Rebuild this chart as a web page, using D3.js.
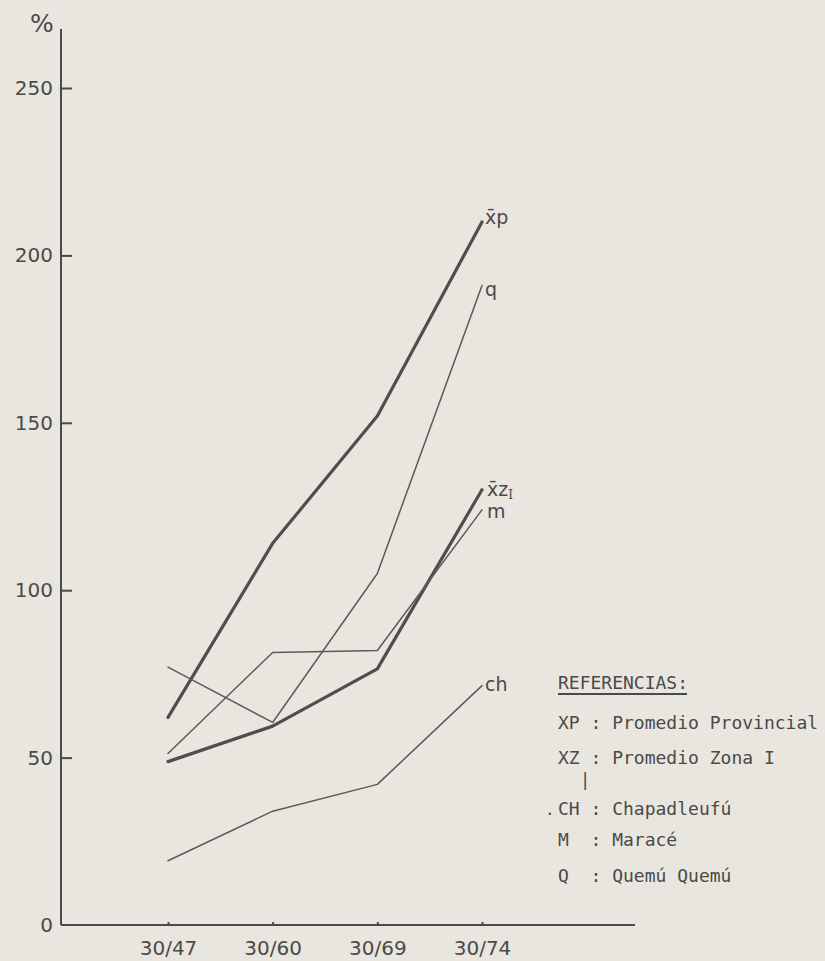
<!DOCTYPE html>
<html>
<head>
<meta charset="utf-8">
<script src="https://cdn.jsdelivr.net/npm/d3@7"></script>
<style>
  html, body { margin: 0; padding: 0; background: #e8e6de; }
  svg { display: block; }
  text { fill: #4a4a48; }
</style>
</head>
<body>
<div class="chart"></div>
<script>
const periods = ["30/47", "30/60", "30/69", "30/74"];
const yTicks = [0, 50, 100, 150, 200, 250];

const xpValues = [62, 114, 152, 210];
const qValues = [77, 60.5, 105, 191];
const xzValues = [48.8, 59.4, 76.5, 130];
const mValues = [51.2, 81.4, 82, 124];
const chValues = [19.2, 34, 42, 71.5];

const legendTitle = "REFERENCIAS:";
const legendKeys = ["XP", "XZ", "CH", "M", "Q"];
const legendNames = ["Promedio Provincial", "Promedio Zona I", "Chapadleufú", "Maracé", "Quemú Quemú"];

(() => {
  const width = 825;
  const height = 961;

  const series = [
    { key: "xp", values: xpValues, thick: true },
    { key: "q", values: qValues, thick: false },
    { key: "xz", values: xzValues, thick: true },
    { key: "m", values: mValues, thick: false },
    { key: "ch", values: chValues, thick: false },
  ];

  const svg = d3
    .select(".chart")
    .append("svg")
    .attr("width", width)
    .attr("height", height);

  const x = d3.scalePoint().domain(periods).range([168, 482]);
  const y = d3.scaleLinear().domain([0, 250]).range([925, 88]);

  const axisLeftX = 61;
  const axisTop = 29;
  const axisRightX = 635;

  // y axis: ticks point inward
  const yAxis = svg
    .append("g")
    .attr("transform", `translate(${axisLeftX},0)`)
    .call(
      d3.axisLeft(y).tickValues(yTicks).tickSizeInner(-11).tickSizeOuter(0).tickPadding(8)
    );
  yAxis.select(".domain").remove();
  yAxis.selectAll("line").attr("stroke", "#4a4a48").attr("stroke-width", 2);
  yAxis
    .selectAll("text")
    .style("font-family", "DejaVu Sans")
    .style("font-size", "20px")
    .attr("fill", "#5a5a58");
  yAxis.selectAll(".tick").filter((d) => d === 0).select("line").remove();

  svg
    .append("line")
    .attr("x1", axisLeftX)
    .attr("x2", axisLeftX)
    .attr("y1", axisTop)
    .attr("y2", y(0))
    .attr("stroke", "#4a4a48")
    .attr("stroke-width", 2);

  svg
    .append("text")
    .attr("x", 42)
    .attr("y", 32)
    .attr("text-anchor", "middle")
    .style("font-family", "DejaVu Sans")
    .style("font-size", "25px")
    .attr("fill", "#4a4a48")
    .text("%");

  // x axis
  const xAxis = svg
    .append("g")
    .attr("transform", `translate(0,${y(0)})`)
    .call(d3.axisBottom(x).tickSizeInner(-3).tickSizeOuter(0).tickPadding(16));
  xAxis.select(".domain").remove();
  xAxis.selectAll("line").attr("stroke", "#4a4a48").attr("stroke-width", 2);
  xAxis
    .selectAll("text")
    .style("font-family", "DejaVu Sans")
    .style("font-size", "20px")
    .attr("fill", "#5a5a58");

  svg
    .append("line")
    .attr("x1", axisLeftX)
    .attr("x2", axisRightX)
    .attr("y1", y(0))
    .attr("y2", y(0))
    .attr("stroke", "#4a4a48")
    .attr("stroke-width", 2);

  // lines
  const line = d3
    .line()
    .x((d, i) => x(periods[i]))
    .y((d) => y(d));

  svg
    .append("g")
    .selectAll("path")
    .data(series)
    .enter()
    .append("path")
    .attr("d", (d) => line(d.values))
    .attr("fill", "none")
    .attr("stroke", (d) => (d.thick ? "#4e4e4c" : "#5a5a58"))
    .attr("stroke-width", (d) => (d.thick ? 3.2 : 1.5))
    .attr("stroke-linejoin", "round")
    .attr("stroke-linecap", "round");

  // end labels
  const labelDy = { xp: 2, q: 10, xz: 6, m: 8, ch: 5 };
  const labelDx = { xp: 3, q: 3, xz: 5, m: 5, ch: 3 };
  const labels = svg
    .append("g")
    .selectAll("text")
    .data(series)
    .enter()
    .append("text")
    .attr("x", (d) => x(periods[periods.length - 1]) + labelDx[d.key])
    .attr("y", (d) => y(d.values[d.values.length - 1]) + labelDy[d.key])
    .style("font-family", "DejaVu Sans")
    .style("font-size", "19px")
    .attr("fill", "#4a4a48");

  labels.each(function (d) {
    const t = d3.select(this);
    if (d.key === "xp") {
      t.text("x\u0304p");
    } else if (d.key === "xz") {
      t.text("x\u0304z");
      t.append("tspan")
        .attr("dy", 3)
        .style("font-size", "12px")
        .style("font-family", "DejaVu Serif")
        .text("I");
    } else {
      t.text(d.key);
    }
  });

  // legend
  const legend = svg.append("g").style("font-family", "DejaVu Sans Mono");
  const lx = 558;

  legend
    .append("text")
    .attr("x", lx)
    .attr("y", 689)
    .style("font-size", "18px")
    .text(legendTitle);
  legend
    .append("line")
    .attr("x1", lx)
    .attr("x2", 687)
    .attr("y1", 694)
    .attr("y2", 694)
    .attr("stroke", "#4a4a48")
    .attr("stroke-width", 2);

  const rowY = [729, 764, 815, 846, 882];
  legendKeys.forEach((k, i) => {
    const row = legend
      .append("text")
      .attr("x", lx)
      .attr("y", rowY[i])
      .attr("xml:space", "preserve")
      .style("white-space", "pre")
      .style("font-size", "18px");
    const key = (k + "   ").slice(0, 3);
    row.append("tspan").text(key);
    row.append("tspan").text(": " + legendNames[i]);
    if (k === "XZ") {
      legend
        .append("text")
        .attr("x", lx + 22)
        .attr("y", rowY[i] + 22)
        .style("font-size", "17px")
        .text("|");
    }
  });

  legend
    .append("text")
    .attr("x", 545)
    .attr("y", rowY[2])
    .style("font-size", "16px")
    .text(".");
})();
</script>
</body>
</html>
